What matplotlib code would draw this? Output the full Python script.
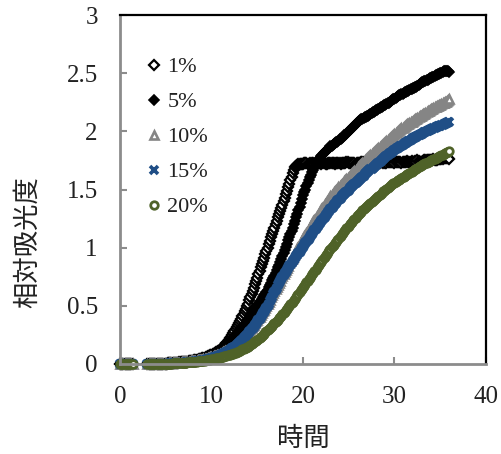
import numpy as np
import matplotlib
matplotlib.use("Agg")
import matplotlib.pyplot as plt

nan = float("nan")

# Sampling times (h): readings every 7.5 min from 0 to 36 h
time_h = np.arange(289) * 0.125

# Relative absorbance per concentration, 16 readings (2 h) per row; NaN = no reading
abs_1pct = [
    0, 0, 0, 0, 0, 0, 0, 0, 0, 0, 0, 0, nan, nan, nan, nan,
    nan, nan, nan, nan, nan, nan, nan, nan, 0, 0, 0, 0, 0, 0, 0, 0,
    0, 0, 0, 0, 0, 0, 0, 0, .003, .004, .005, .005, .006, .007, .008, .009,
    .01, .01, .011, .012, .013, .014, .015, .016, .017, .018, .02, .021, .023, .024, .026, .028,
    .03, .032, .034, .036, .038, .04, .043, .046, .05, .052, .055, .058, .062, .066, .07, .075,
    .08, .085, .09, .095, .10, .107, .115, .122, .13, .137, .145, .155, .165, .177, .19, .205,
    .22, .235, .25, .265, .28, .297, .315, .332, .35, .37, .39, .41, .43, .452, .475, .497,
    .52, .547, .575, .602, .63, .657, .685, .712, .74, .77, .80, .83, .86, .887, .915, .942,
    .97, 1.0, 1.03, 1.06, 1.09, 1.117, 1.145, 1.172, 1.20, 1.23, 1.26, 1.287, 1.315, 1.342, 1.37, 1.40,
    1.43, 1.46, 1.49, 1.52, 1.55, 1.58, 1.61, 1.64, 1.67, 1.69, 1.70, 1.71, 1.715, 1.72, 1.72, 1.72,
    1.72, 1.725, 1.73, 1.725, 1.72, 1.72, 1.725, 1.72, 1.73, 1.725, 1.72, 1.73, 1.73, 1.725, 1.73, 1.73,
    1.72, 1.73, 1.73, 1.725, 1.72, 1.72, 1.73, 1.73, 1.73, 1.725, 1.73, 1.73, 1.72, 1.725, 1.73, 1.73,
    1.73, 1.72, 1.725, 1.73, 1.73, 1.73, 1.735, 1.74, 1.73, 1.73, 1.725, 1.73, 1.73, 1.73, 1.72, 1.725,
    1.73, 1.73, 1.73, 1.735, 1.74, 1.735, 1.73, 1.73, 1.73, 1.73, 1.73, 1.735, 1.73, 1.735, 1.74, 1.735,
    1.73, 1.735, 1.73, 1.73, 1.74, 1.735, 1.73, 1.735, 1.73, 1.73, 1.735, 1.74, 1.74, 1.74, 1.735, 1.74,
    1.73, 1.735, 1.74, 1.74, 1.74, 1.735, 1.73, 1.735, 1.74, 1.74, 1.74, 1.745, 1.74, 1.74, 1.74, 1.745,
    1.74, 1.74, 1.745, 1.74, 1.75, 1.745, 1.74, 1.74, 1.74, 1.745, 1.75, 1.75, 1.75, 1.75, 1.755, 1.75,
    1.75, 1.755, 1.76, 1.755, 1.75, 1.755, 1.76, 1.76, 1.76, 1.76, 1.765, 1.77, 1.77, 1.77, 1.775, 1.77,
    1.76,
]

abs_5pct = [
    0, 0, 0, 0, 0, 0, 0, 0, 0, 0, 0, 0, nan, nan, nan, nan,
    nan, nan, nan, nan, nan, nan, nan, nan, 0, 0, 0, 0, 0, 0, 0, 0,
    0, 0, 0, 0, 0, 0, 0, 0, .003, .004, .005, .005, .005, .006, .007, .008,
    .009, .01, .01, .011, .012, .013, .014, .015, .016, .017, .018, .02, .021, .022, .024, .026,
    .028, .03, .031, .033, .035, .037, .04, .042, .045, .047, .05, .053, .057, .061, .065, .07,
    .075, .079, .083, .087, .092, .098, .105, .111, .118, .125, .132, .14, .148, .158, .168, .179,
    .19, .20, .21, .22, .23, .242, .255, .267, .28, .292, .305, .317, .33, .342, .355, .367,
    .38, .395, .41, .425, .44, .455, .47, .485, .50, .515, .53, .545, .56, .575, .59, .605,
    .62, .64, .66, .68, .70, .72, .74, .76, .78, .805, .83, .855, .88, .905, .93, .955,
    .98, 1.007, 1.035, 1.062, 1.09, 1.117, 1.145, 1.172, 1.20, 1.23, 1.26, 1.29, 1.32, 1.352, 1.385, 1.417,
    1.45, 1.475, 1.50, 1.527, 1.555, 1.58, 1.605, 1.627, 1.65, 1.67, 1.69, 1.707, 1.725, 1.742, 1.76, 1.775,
    1.79, 1.80, 1.81, 1.82, 1.83, 1.84, 1.85, 1.86, 1.87, 1.877, 1.885, 1.892, 1.90, 1.905, 1.91, 1.92,
    1.93, 1.937, 1.945, 1.955, 1.965, 1.972, 1.98, 1.99, 2.0, 2.01, 2.02, 2.03, 2.04, 2.05, 2.06, 2.07,
    2.08, 2.087, 2.095, 2.102, 2.11, 2.115, 2.12, 2.125, 2.13, 2.135, 2.14, 2.147, 2.155, 2.162, 2.17, 2.175,
    2.18, 2.185, 2.19, 2.197, 2.205, 2.212, 2.22, 2.225, 2.23, 2.235, 2.24, 2.247, 2.255, 2.262, 2.27, 2.275,
    2.28, 2.287, 2.295, 2.302, 2.31, 2.315, 2.32, 2.325, 2.33, 2.335, 2.34, 2.345, 2.35, 2.355, 2.36, 2.365,
    2.37, 2.375, 2.38, 2.385, 2.39, 2.397, 2.405, 2.412, 2.42, 2.425, 2.43, 2.435, 2.44, 2.445, 2.45, 2.455,
    2.46, 2.465, 2.47, 2.475, 2.48, 2.485, 2.49, 2.495, 2.50, 2.505, 2.51, 2.515, 2.52, 2.52, 2.52, 2.515,
    2.51,
]

abs_10pct = [
    0, 0, 0, 0, 0, 0, 0, 0, 0, 0, 0, 0, nan, nan, nan, nan,
    nan, nan, nan, nan, nan, nan, nan, nan, 0, 0, 0, 0, 0, 0, 0, 0,
    0, 0, 0, 0, 0, 0, 0, 0, .003, .004, .004, .005, .005, .006, .006, .007,
    .008, .009, .01, .01, .011, .012, .013, .014, .015, .016, .017, .018, .019, .02, .022, .023,
    .025, .026, .028, .029, .031, .032, .034, .036, .038, .04, .042, .044, .047, .05, .053, .056,
    .06, .063, .066, .07, .073, .077, .081, .085, .09, .094, .099, .104, .109, .114, .119, .122,
    .125, .132, .14, .148, .156, .164, .172, .181, .19, .20, .21, .221, .232, .242, .253, .264,
    .275, .287, .30, .313, .326, .339, .352, .366, .38, .394, .408, .423, .438, .453, .468, .484,
    .50, .518, .536, .554, .572, .59, .608, .626, .645, .663, .681, .699, .717, .735, .753, .771,
    .79, .809, .828, .846, .865, .884, .903, .921, .94, .957, .975, .993, 1.01, 1.027, 1.045, 1.062,
    1.08, 1.096, 1.113, 1.129, 1.145, 1.161, 1.178, 1.194, 1.21, 1.225, 1.24, 1.255, 1.27, 1.285, 1.30, 1.315,
    1.33, 1.344, 1.358, 1.372, 1.386, 1.40, 1.413, 1.427, 1.44, 1.452, 1.463, 1.475, 1.486, 1.497, 1.508, 1.519,
    1.53, 1.54, 1.55, 1.56, 1.57, 1.58, 1.59, 1.60, 1.61, 1.62, 1.63, 1.64, 1.65, 1.66, 1.67, 1.68,
    1.69, 1.70, 1.71, 1.72, 1.73, 1.74, 1.75, 1.76, 1.77, 1.779, 1.788, 1.796, 1.805, 1.813, 1.822, 1.831,
    1.84, 1.849, 1.858, 1.866, 1.875, 1.883, 1.892, 1.901, 1.91, 1.919, 1.928, 1.936, 1.945, 1.953, 1.962, 1.971,
    1.98, 1.987, 1.995, 2.002, 2.01, 2.017, 2.025, 2.032, 2.04, 2.046, 2.053, 2.059, 2.065, 2.071, 2.078, 2.084,
    2.09, 2.096, 2.103, 2.109, 2.115, 2.121, 2.128, 2.134, 2.14, 2.146, 2.153, 2.159, 2.165, 2.171, 2.178, 2.184,
    2.19, 2.195, 2.20, 2.205, 2.21, 2.215, 2.22, 2.225, 2.23, 2.235, 2.24, 2.245, 2.25, 2.255, 2.26, 2.27,
    2.28,
]

abs_15pct = [
    0, 0, 0, 0, 0, 0, 0, 0, 0, 0, 0, 0, nan, nan, nan, nan,
    nan, nan, nan, nan, nan, nan, nan, nan, 0, 0, 0, 0, 0, 0, 0, 0,
    0, 0, 0, 0, 0, 0, 0, 0, .003, .003, .004, .004, .005, .005, .006, .006,
    .007, .007, .008, .008, .009, .009, .01, .011, .012, .012, .013, .014, .015, .016, .017, .018,
    .02, .021, .022, .023, .025, .026, .028, .03, .032, .034, .036, .038, .04, .042, .045, .047,
    .05, .053, .057, .06, .064, .068, .072, .076, .08, .084, .089, .093, .098, .103, .109, .114,
    .12, .127, .134, .141, .149, .156, .164, .172, .18, .19, .20, .21, .22, .23, .24, .25,
    .26, .272, .285, .297, .31, .322, .335, .347, .36, .375, .39, .405, .42, .435, .45, .465,
    .48, .50, .52, .54, .56, .58, .60, .62, .64, .657, .675, .692, .71, .727, .745, .762,
    .78, .795, .81, .825, .84, .855, .87, .882, .895, .91, .925, .94, .955, .967, .98, .995,
    1.01, 1.025, 1.04, 1.052, 1.065, 1.077, 1.09, 1.105, 1.12, 1.134, 1.148, 1.161, 1.175, 1.187, 1.20, 1.215,
    1.23, 1.242, 1.255, 1.267, 1.28, 1.292, 1.305, 1.317, 1.33, 1.341, 1.353, 1.364, 1.375, 1.386, 1.398, 1.409,
    1.42, 1.43, 1.44, 1.45, 1.46, 1.47, 1.48, 1.49, 1.50, 1.509, 1.518, 1.526, 1.535, 1.543, 1.552, 1.561,
    1.57, 1.58, 1.59, 1.60, 1.61, 1.62, 1.63, 1.64, 1.65, 1.657, 1.665, 1.672, 1.68, 1.687, 1.695, 1.702,
    1.71, 1.719, 1.728, 1.736, 1.745, 1.753, 1.762, 1.771, 1.78, 1.787, 1.795, 1.802, 1.81, 1.817, 1.825, 1.832,
    1.84, 1.846, 1.853, 1.859, 1.865, 1.871, 1.878, 1.884, 1.89, 1.896, 1.903, 1.909, 1.915, 1.921, 1.928, 1.934,
    1.94, 1.945, 1.95, 1.955, 1.96, 1.965, 1.97, 1.975, 1.98, 1.985, 1.99, 1.995, 2.0, 2.005, 2.01, 2.015,
    2.02, 2.024, 2.028, 2.031, 2.035, 2.039, 2.043, 2.046, 2.05, 2.054, 2.058, 2.061, 2.065, 2.069, 2.073, 2.076,
    2.08,
]

abs_20pct = [
    0, 0, 0, 0, 0, 0, 0, 0, 0, 0, 0, 0, nan, nan, nan, nan,
    nan, nan, nan, nan, nan, nan, nan, nan, 0, 0, 0, 0, 0, 0, 0, 0,
    0, 0, 0, 0, 0, 0, 0, 0, .002, .002, .003, .003, .004, .004, .005, .005,
    .006, .006, .007, .007, .008, .008, .009, .009, .01, .011, .012, .013, .014, .015, .016, .017,
    .018, .019, .02, .021, .022, .023, .024, .025, .027, .028, .03, .031, .033, .034, .036, .038,
    .04, .042, .044, .046, .048, .05, .053, .055, .058, .06, .063, .066, .069, .072, .075, .077,
    .08, .083, .087, .09, .094, .098, .102, .106, .11, .115, .12, .125, .13, .135, .14, .145,
    .15, .157, .164, .171, .178, .186, .194, .202, .21, .218, .227, .235, .244, .253, .262, .271,
    .28, .29, .30, .31, .32, .33, .34, .35, .36, .371, .382, .393, .404, .415, .427, .438,
    .45, .462, .475, .487, .50, .512, .525, .537, .55, .563, .577, .591, .605, .618, .632, .646,
    .66, .674, .688, .701, .715, .729, .743, .756, .77, .784, .798, .811, .825, .839, .853, .866,
    .88, .894, .908, .921, .935, .949, .963, .976, .99, 1.002, 1.015, 1.027, 1.04, 1.052, 1.065, 1.077,
    1.09, 1.102, 1.115, 1.127, 1.14, 1.152, 1.165, 1.177, 1.19, 1.201, 1.213, 1.224, 1.235, 1.246, 1.258, 1.269,
    1.28, 1.29, 1.30, 1.31, 1.32, 1.33, 1.34, 1.35, 1.36, 1.369, 1.378, 1.386, 1.395, 1.404, 1.413, 1.421,
    1.43, 1.439, 1.448, 1.456, 1.465, 1.474, 1.483, 1.491, 1.50, 1.507, 1.515, 1.522, 1.53, 1.537, 1.545, 1.552,
    1.56, 1.566, 1.573, 1.579, 1.585, 1.591, 1.598, 1.604, 1.61, 1.616, 1.623, 1.629, 1.635, 1.641, 1.648, 1.654,
    1.66, 1.666, 1.673, 1.679, 1.685, 1.691, 1.698, 1.704, 1.71, 1.715, 1.72, 1.725, 1.73, 1.735, 1.74, 1.745,
    1.75, 1.755, 1.76, 1.765, 1.77, 1.775, 1.78, 1.785, 1.79, 1.795, 1.80, 1.805, 1.81, 1.815, 1.82, 1.825,
    1.83,
]

series_labels = ["1%", "5%", "10%", "15%", "20%"]
x_ticks = [0, 10, 20, 30, 40]
y_ticks = [0, 0.5, 1, 1.5, 2, 2.5, 3]
y_tick_labels = ["0", "0.5", "1", "1.5", "2", "2.5", "3"]

serif = "Liberation Serif"
cjk = ["Noto Sans CJK JP", "DejaVu Sans"]
text_color = "#222222"

fig = plt.figure(figsize=(5.02, 4.54), dpi=100)
ax = fig.add_axes([120 / 502, 1 - 364 / 454, 366 / 502, 349 / 454])

styles = [
    dict(marker="D", ms=4.6, mfc="white", mec="black", mew=1.6),
    dict(marker="D", ms=5.0, mfc="black", mec="black", mew=1.2),
    dict(marker="^", ms=5.6, mfc="white", mec="#858585", mew=1.9),
    dict(marker="x", ms=5.2, mec="#1F4E86", mew=2.6),
    dict(marker="o", ms=5.4, mfc="white", mec="#4F6228", mew=2.0),
]

for values, label, st in zip(
    [abs_1pct, abs_5pct, abs_10pct, abs_15pct, abs_20pct], series_labels, styles
):
    ax.plot(time_h, values, linestyle="none", label=label, clip_on=False, **st)

ax.set_xlim(0, 40)
ax.set_ylim(0, 3)
ax.set_xticks(x_ticks)
ax.set_yticks(y_ticks)
ax.set_yticklabels(y_tick_labels)

for side in ("left", "bottom"):
    ax.spines[side].set_color("#8c8c8c")
    ax.spines[side].set_linewidth(2.0)
for side in ("top", "right"):
    ax.spines[side].set_color("black")
    ax.spines[side].set_linewidth(1.6)

ax.tick_params(axis="both", direction="in", length=5, width=1.5, color="#8c8c8c",
               labelsize=18, labelcolor=text_color)
ax.tick_params(axis="y", pad=16)
ax.tick_params(axis="x", pad=16)
for lab in ax.get_xticklabels() + ax.get_yticklabels():
    lab.set_fontfamily(serif)

ax.set_xlabel("時間", family=cjk, fontsize=19, color=text_color, labelpad=12)
ax.set_ylabel("相対吸光度", family=cjk, fontsize=19, color=text_color)
ax.yaxis.set_label_coords((28 - 120) / 366, (364 - 242) / 349)
ax.yaxis.label.set_verticalalignment("center")

leg = ax.legend(loc="upper left", bbox_to_anchor=(0.02, 0.925), frameon=False,
                prop={"family": serif, "size": 16}, handletextpad=0.1,
                labelspacing=0.65, handlelength=1.0, borderaxespad=0.3)
for t in leg.get_texts():
    t.set_color(text_color)

fig.savefig("out.png", dpi=100)
